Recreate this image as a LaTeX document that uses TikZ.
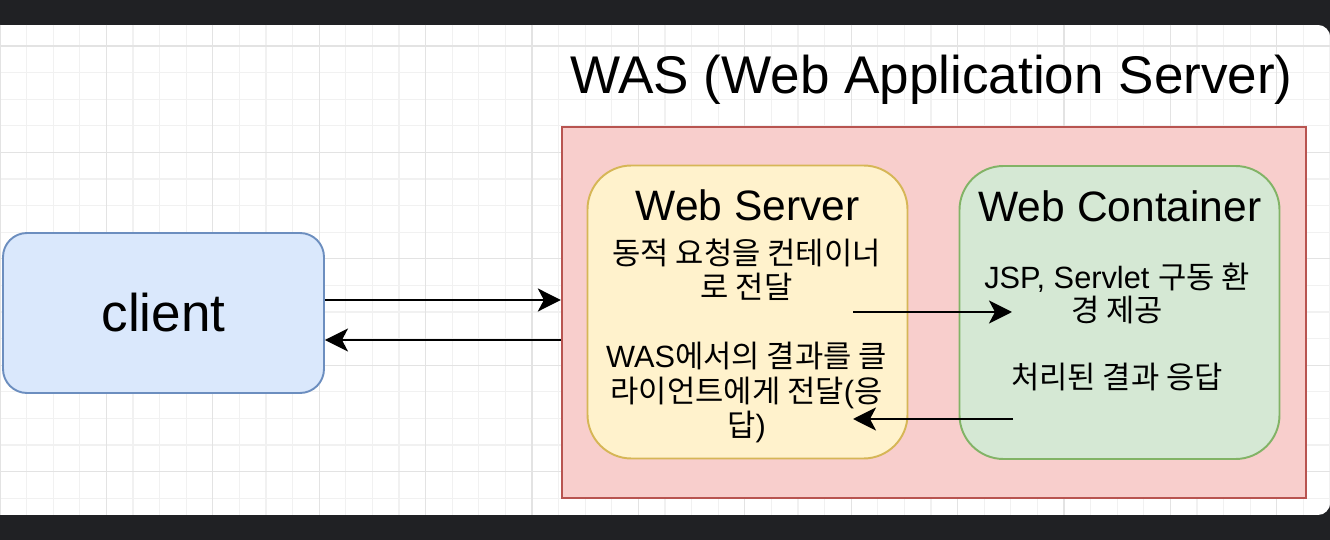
\documentclass[tikz,border=0pt]{standalone}
\usepackage{fontspec}
\setmainfont{Liberation Sans}
\newfontfamily\krfont{Noto Sans CJK KR}
\usepackage{tikz}
\usetikzlibrary{arrows.meta,positioning,calc}
\newcommand{\kr}[1]{{\krfont #1}}
\definecolor{dunkel}{HTML}{202124}
\definecolor{rasterneben}{HTML}{F1F1F1}
\definecolor{rasterhaupt}{HTML}{E3E3E3}
\definecolor{clientfill}{HTML}{DAE8FC}
\definecolor{clientrand}{HTML}{6C8EBF}
\definecolor{wasfill}{HTML}{F8CECC}
\definecolor{wasrand}{HTML}{B85450}
\definecolor{wsfill}{HTML}{FFF2CC}
\definecolor{wsrand}{HTML}{D6B656}
\definecolor{wcfill}{HTML}{D5E8D4}
\definecolor{wcrand}{HTML}{82B366}

\begin{document}
\begin{tikzpicture}[x=0.02cm,y=-0.02cm,
  kasten/.style={draw,line width=1.1pt,rounded corners=0.88cm,inner sep=0pt,minimum width=320*0.02cm,minimum height=293*0.02cm},
  pfeil/.style={line width=1.5pt,-{Stealth[length=0.46cm,width=0.46cm,inset=0.12cm]}},
  titel/.style={anchor=base,inner sep=0pt,font=\fontsize{24.2}{28}\selectfont},
  inhalt/.style={align=center,inner sep=0pt,font=\fontsize{17.5}{19.6}\selectfont}]
%Alle Werte in Pixel des Bildes (1330x540), Raster alle 26.6 px
  \pgfmathsetmacro{\raster}{26.6}
  \useasboundingbox (0,0) rectangle (1330,540);
  \fill[dunkel] (0,0) rectangle (1330,540);
\begin{scope}
  \clip[rounded corners=0.24cm] (-20,25) rectangle (1330,515);
  \fill[white] (-20,25) rectangle (1330,515);
%Raster
\foreach \i in {0,...,50}{
  \draw[rasterneben,line width=0.6pt] (\i*\raster,25) -- (\i*\raster,515);
}
\foreach \j in {-1,...,18}{
  \draw[rasterneben,line width=0.6pt] (0,46+\j*\raster) -- (1330,46+\j*\raster);
}
\foreach \i in {0,4,...,48}{
  \draw[rasterhaupt,line width=0.6pt] (\i*\raster,25) -- (\i*\raster,515);
}
\foreach \j in {0,4,...,16}{
  \draw[rasterhaupt,line width=0.6pt] (0,46+\j*\raster) -- (1330,46+\j*\raster);
}
\end{scope}
  \node[anchor=base,inner sep=0pt,font=\fontsize{30.2}{36}\selectfont] (wastitel) at (931.5,94) {WAS (Web Application Server)};
  \node[draw=clientrand,fill=clientfill,line width=1.1pt,rounded corners=0.48cm,minimum width=321*0.02cm,minimum height=160*0.02cm,font=\fontsize{30.2}{36}\selectfont] (client) at (163.5,313) {client};
  \node[draw=wasrand,fill=wasfill,line width=1.3pt,minimum width=744*0.02cm,minimum height=371*0.02cm] (was) at (934,312.5) {};
  \node[kasten,draw=wsrand,fill=wsfill] (ws) at (747.5,312) {};
  \node[kasten,draw=wcrand,fill=wcfill] (wc) at (1119.5,312.5) {};
  \node[titel] (wstitel) at (747.5,221) {Web Server};
  \node[titel] (wctitel) at (1120,222) {Web Container};
  \node[inhalt] (wsinhalt) at (746.5,341) {\kr{동적 요청을 컨테이너}\\\kr{로 전달}\\[19.6pt]WAS\kr{에서의 결과를 클}\\\kr{라이언트에게 전달}(\kr{응}\\\kr{답})};
  \node[inhalt,font=\fontsize{17.5}{19}\selectfont] (wcinhalt) at (1117,327) {JSP, Servlet \kr{구동 환}\\\kr{경 제공}\\[19pt]\kr{처리된 결과 응답}};
%Verbindungen
  \coordinate (hin) at (0,300);
  \coordinate (zurueck) at (0,340);
  \coordinate (wsaus) at (853,312);
  \coordinate (wcein) at (1012,312);
  \coordinate (wcaus) at (1013,419);
  \coordinate (wsein) at (853,419);
  \draw[pfeil] (client.east |- hin) -- (was.west |- hin);
  \draw[pfeil] (was.west |- zurueck) -- (client.east |- zurueck);
  \draw[pfeil] (wsaus) -- (wcein);
  \draw[pfeil] (wcaus) -- (wsein);
\end{tikzpicture}
\end{document}
